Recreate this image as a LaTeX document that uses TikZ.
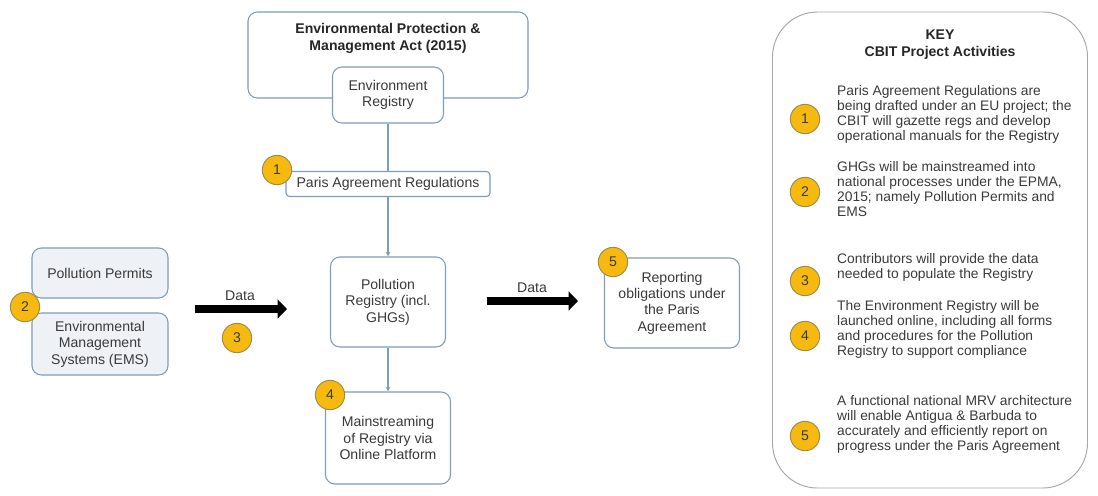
\documentclass[tikz,border=0pt]{standalone}
\usepackage{fontspec}
\setmainfont{Liberation Sans}
\usetikzlibrary{arrows.meta}

\definecolor{boxline}{HTML}{7F9CB8}
\definecolor{boxfill}{HTML}{EEF2F7}
\definecolor{badgefill}{HTML}{F5B90F}
\definecolor{badgeline}{HTML}{A08A4C}
\definecolor{keyline}{HTML}{A6A6A6}
\definecolor{txt}{HTML}{3A3A3A}

\tikzset{
  box/.style={draw=boxline, line width=0.9pt, rounded corners=8pt, fill=white,
    align=center, text=txt, inner sep=0pt},
  badge/.style={circle, draw=badgeline, line width=0.8pt, fill=badgefill,
    minimum size=0.88cm, inner sep=0pt, text=txt},
  keytext/.style={anchor=west, align=left, text=txt, inner sep=0pt,
    font=\fontsize{11.8}{12.8}\selectfont},
  flow/.style={draw=boxline, line width=0.9pt},
  data/.style={line width=6pt, -{Triangle[length=8pt,width=16pt]}},
}

\begin{document}
\begin{tikzpicture}[x=0.03cm, y=-0.03cm, font=\fontsize{12}{14}\selectfont]
    \useasboundingbox (0,0) rectangle (1098,495);

    % main column
    \node[box, minimum width=8.4cm, minimum height=2.58cm] (epma) at (388,55) {};
    \node[font=\bfseries\fontsize{12}{14.5}\selectfont, align=center, text=black!85] (epmatitle) at (388,38) {Environmental Protection \&\\Management Act (2015)};
    \node[box, minimum width=3.33cm, minimum height=1.68cm] (envreg) at (388,95) {Environment\\Registry};
    \node[box, rounded corners=3pt, minimum width=6.12cm, minimum height=0.75cm] (par) at (388,184) {Paris Agreement Regulations};
    \node[box, minimum width=3.45cm, minimum height=2.7cm] (pollreg) at (388,302) {Pollution\\Registry (incl.\\GHGs)};
    \node[box, minimum width=3.75cm, minimum height=2.76cm] (mainstr) at (388,438) {Mainstreaming\\of Registry via\\Online Platform};
    \node[box, minimum width=4.05cm, minimum height=2.7cm] (report) at (672,303) {Reporting\\obligations under\\the Paris\\Agreement};

    % contributors
    \node[box, fill=boxfill, minimum width=4.08cm, minimum height=1.5cm] (permits) at (100,273) {Pollution Permits};
    \node[box, fill=boxfill, minimum width=4.08cm, minimum height=1.86cm] (ems) at (100,344) {Environmental\\Management\\Systems (EMS)};

    \draw[flow] (envreg) -- (par);
    \draw[flow, -{Stealth[length=4pt,width=4pt]}] (par) -- (pollreg);
    \draw[flow, -{Stealth[length=4pt,width=4pt]}] (pollreg) -- (mainstr);

    % data flows
    \coordinate (d1s) at (195,309);
    \coordinate (d1e) at (287,309);
    \coordinate (d2s) at (487,301);
    \coordinate (d2e) at (578,301);
    \draw[data] (d1s) -- (d1e);
    \draw[data] (d2s) -- (d2e);
    \node[text=txt] (data1) at (240,296) {Data};
    \node[text=txt] (data2) at (532,288) {Data};

    % activity numbers
    \node[badge] (b1) at (277,170) {1};
    \node[badge] (b2) at (25,307) {2};
    \node[badge] (b3) at (237,338) {3};
    \node[badge] (b4) at (330,395) {4};
    \node[badge] (b5) at (613,262) {5};

    % key
    \node[draw=keyline, line width=0.8pt, rounded corners=1.35cm, minimum width=9.45cm, minimum height=14.28cm] (keybox) at (930,250) {};
    \node[font=\bfseries\fontsize{12}{14.5}\selectfont, align=center, text=black!85] (keytitle) at (940,45) {KEY\\CBIT Project Activities};
    \node[badge] (k1) at (805,119) {1};
    \node[keytext] (t1) at (837,114) {Paris Agreement Regulations are\\being drafted under an EU project; the\\CBIT will gazette regs and develop\\operational manuals for the Registry};
    \node[badge] (k2) at (805,192) {2};
    \node[keytext] (t2) at (837,189) {GHGs will be mainstreamed into\\national processes under the EPMA,\\2015; namely Pollution Permits and\\EMS};
    \node[badge] (k3) at (805,281) {3};
    \node[keytext] (t3) at (837,267) {Contributors will provide the data\\needed to populate the Registry};
    \node[badge] (k4) at (805,336) {4};
    \node[keytext] (t4) at (837,329) {The Environment Registry will be\\launched online, including all forms\\and procedures for the Pollution\\Registry to support compliance};
    \node[badge] (k5) at (805,436) {5};
    \node[keytext] (t5) at (837,424) {A functional national MRV architecture\\will enable Antigua \& Barbuda to\\accurately and efficiently report on\\progress under the Paris Agreement};
\end{tikzpicture}
\end{document}
